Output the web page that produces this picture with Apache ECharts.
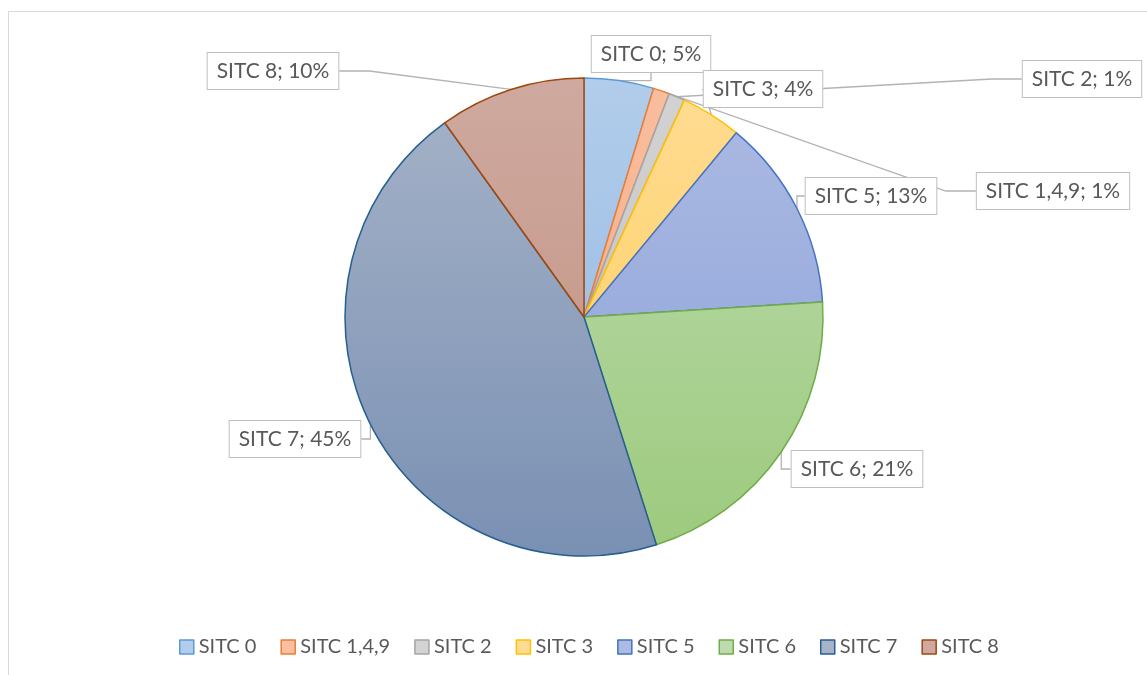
<!DOCTYPE html>
<html>
<head>
<meta charset="utf-8">
<script src="https://cdn.jsdelivr.net/npm/echarts@6/dist/echarts.min.js"></script>
<style>
  html, body { margin: 0; padding: 0; background: #fff; overflow: hidden; }
  #frame { position: absolute; left: 8px; top: 11px; width: 1160px; height: 700px; border: 1px solid #d9d9d9; border-width: 1.5px; box-sizing: border-box; }
  #chartContainer { position: absolute; left: 0; top: 0; width: 1147px; height: 675px; }
</style>
</head>
<body>
<div id="frame"></div>
<div id="chartContainer"></div>
<script>
// values (share of total, %)
var categories = ['SITC 0', 'SITC 1,4,9', 'SITC 2', 'SITC 3', 'SITC 5', 'SITC 6', 'SITC 7', 'SITC 8'];
var shares = [4.7, 1.1, 1.1, 4.1, 13.0, 21.1, 45.0, 9.9];

// fill gradient (top, bottom) and outline colour per slice
var fillTop = ['#b2cdeb', '#f9bfa0', '#d3d3d3', '#ffdc94', '#adbbe3', '#bedbb0', '#a6b3c8', '#cfa99f'];
var fillBottom = ['#8fb4e0', '#f4a277', '#bdbdbd', '#ffcd55', '#8aa0d9', '#9cca7d', '#7a90b3', '#c0907f'];
var edges = ['#5b9bd5', '#ed7d31', '#a5a5a5', '#ffc000', '#4472c4', '#70ad47', '#255e91', '#9e480e'];

// where each callout box sits (centre)
var labelSpots = [[651, 54], [1053, 191], [1082, 79], [763, 89], [871, 196], [857, 469], [295, 439], [273, 71]];

var chart = echarts.init(document.getElementById('chartContainer'));

var FONT = 'Lato';

chart.setOption({
    animation: false,
    legend: {
        left: 174,
        top: 632,
        itemWidth: 14,
        itemHeight: 14,
        itemGap: 24,
        icon: 'rect',
        textStyle: { color: '#595959', fontSize: 20, fontFamily: FONT },
        data: categories.map(function (name, i) {
            return {
                name: name,
                itemStyle: {
                    color: fillTop[i],
                    borderColor: edges[i],
                    borderWidth: 1.5
                }
            };
        })
    },
    series: [{
        type: 'pie',
        center: [584, 317],
        radius: 239,
        startAngle: 90,
        clockwise: true,
        percentPrecision: 0,
        label: {
            show: true,
            position: 'outside',
            formatter: '{b}; {d}%',
            color: '#595959',
            fontSize: 21,
            fontFamily: FONT,
            backgroundColor: '#fff',
            borderColor: '#bfbfbf',
            borderWidth: 1,
            padding: [8, 9, 7, 9]
        },
        labelLine: {
            show: true,
            lineStyle: { color: '#b3b3b3', width: 1.3 }
        },
        labelLayout: function (params) {
            var p = labelSpots[params.dataIndex];
            return {
                x: p[0],
                y: p[1],
                align: 'center',
                verticalAlign: 'middle'
            };
        },
        data: categories.map(function (name, i) {
            return {
                name: name,
                value: shares[i],
                itemStyle: {
                    color: {
                        type: 'linear', x: 0, y: 78, x2: 0, y2: 556, global: true,
                        colorStops: [
                            { offset: 0, color: fillTop[i] },
                            { offset: 1, color: fillBottom[i] }
                        ]
                    },
                    borderColor: edges[i],
                    borderWidth: 1.5
                }
            };
        })
    }]
});
</script>
</body>
</html>
